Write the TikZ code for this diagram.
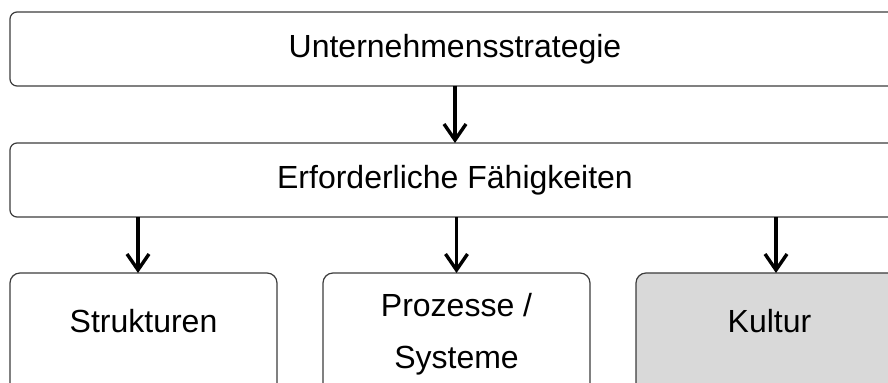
\documentclass[tikz,border=0pt]{standalone}
\usepackage{fontspec}
\setmainfont{Liberation Sans}
\usetikzlibrary{arrows.meta,positioning}
\definecolor{boxline}{RGB}{60,60,60}
\definecolor{kulturgray}{RGB}{217,217,217}
\tikzset{
  levelbox/.style={
    draw=boxline,line width=0.6pt,rounded corners=3.5pt,fill=white,
    minimum width=445pt,minimum height=37pt,inner sep=0pt,outer sep=0pt,
    font=\fontsize{16pt}{26pt}\selectfont
  },
  unitbox/.style={levelbox,rounded corners=5pt,minimum width=133.5pt,
    minimum height=61pt,align=center},
  onelinetext/.style={text height=12pt,text depth=13.5pt},
  kulturbox/.style={unitbox,fill=kulturgray},
  downarrow/.style={-{Straight Barb[length=8pt,width=11pt]},line width=1.7pt}
}

\begin{document}
\begin{tikzpicture}
  \useasboundingbox (0,0) rectangle (444pt,-191.5pt);
  \node[levelbox,anchor=north west] (strategie) at (5pt,-6pt) {Unternehmensstrategie};
  \node[levelbox,below=28.5pt of strategie] (faehig) {Erforderliche Fähigkeiten};
  \node[unitbox,onelinetext,below right=28pt and 0pt of faehig.south west] (strukt) {Strukturen};
  \node[unitbox,right=23pt of strukt] (prozess) {Prozesse /\\Systeme};
  \node[kulturbox,onelinetext,right=23pt of prozess] (kultur) {Kultur};
  \draw[downarrow] (strategie) -- (faehig);
  \draw[downarrow] ([xshift=-2.75pt]strukt.north |- faehig.south) -- ([xshift=-2.75pt]strukt.north);
  \draw[downarrow] (prozess.north |- faehig.south) -- (prozess.north);
  \draw[downarrow] ([xshift=3.25pt]kultur.north |- faehig.south) -- ([xshift=3.25pt]kultur.north);
\end{tikzpicture}
\end{document}
